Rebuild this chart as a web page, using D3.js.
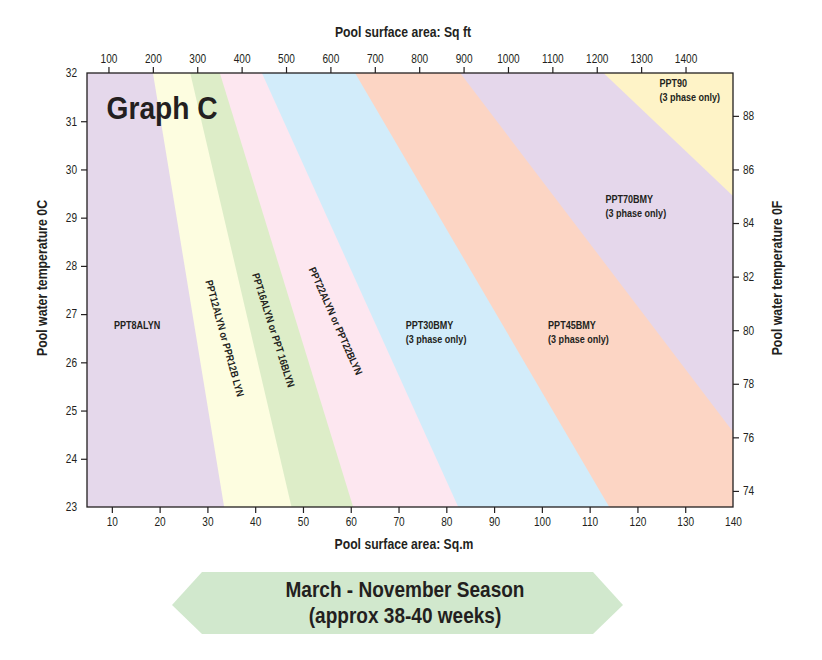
<!DOCTYPE html>
<html><head><meta charset="utf-8">
<script src="https://cdn.jsdelivr.net/npm/d3@7"></script>
<style>
body{margin:0;background:#fff}
text{font-family:"Liberation Sans",Arial,sans-serif;fill:#231f20}
</style>
</head><body>
<svg id="c" width="822" height="660"></svg>
<script>
// ---- data ----
const sqmTicks = [10,20,30,40,50,60,70,80,90,100,110,120,130,140];
const sqftTicks = [100,200,300,400,500,600,700,800,900,1000,1100,1200,1300,1400];
const tempCTicks = [23,24,25,26,27,28,29,30,31,32];
const tempFTicks = [74,76,78,80,82,84,86,88];
const sqmDomain = [4.8, 140];
const tempCDomain = [23, 32];
// zone boundaries: two points each, [sq.m, °C]
const boundaries = [
  [[18.6,32],[33.5,23]],
  [[26.4,32],[47.6,23]],
  [[32.6,32],[60.5,23]],
  [[41.4,32],[82.5,23]],
  [[60.9,32],[114.1,23]],
  [[82.9,32],[140,24.56]],
  [[112.9,32],[140,29.45]]
];
const zoneNames = ["PPT8ALYN","PPT12ALYN or PPR12B LYN","PPT16ALYN or PPT 16BLYN","PPT22ALYN or PPT22BLYN","PPT30BMY","PPT45BMY","PPT70BMY","PPT90"];
const zoneNotes = ["","","","","(3 phase only)","(3 phase only)","(3 phase only)","(3 phase only)"];
const zoneColors = ["#e5d8eb","#fdfde0","#ddedc8","#fde7f0","#d2ecfa","#fcd5c4","#e5d7eb","#fef3c7"];
const titleText = "Graph C";
const seasonLines = ["March - November Season","(approx 38-40 weeks)"];

// ---- layout ----
const L=87, R=733, T=73, B=507;
const svg = d3.select("#c");
const x = d3.scaleLinear().domain(sqmDomain).range([L,R]);
const xft = d3.scaleLinear().domain(sqmDomain.map(d=>d*10.7639)).range([L,R]);
const y = d3.scaleLinear().domain(tempCDomain).range([B,T]);
const yF = d3.scaleLinear().domain(tempCDomain.map(c=>c*9/5+32)).range([B,T]);

// horizontally condense text (narrow face look)
function condense(sel, f){
  sel.each(function(){
    const w=this.getComputedTextLength();
    this.setAttribute("textLength", (w*f).toFixed(2));
    this.setAttribute("lengthAdjust","spacingAndGlyphs");
  });
}

svg.append("defs").append("clipPath").attr("id","plot")
  .append("rect").attr("x",L).attr("y",T).attr("width",R-L).attr("height",B-T);

const g = svg.append("g").attr("clip-path","url(#plot)");
g.append("rect").attr("x",L).attr("y",T).attr("width",R-L).attr("height",B-T).attr("fill",zoneColors[0]);

function xAt(b,t){const [p1,p2]=b;return p1[0]+(t-p1[1])*(p2[0]-p1[0])/(p2[1]-p1[1]);}
boundaries.forEach((b,i)=>{
  const t1=34,t2=21,far=400;
  const pts=[[xAt(b,t1),t1],[xAt(b,t2),t2],[far,t2],[far,t1]];
  g.append("path")
    .attr("d", d3.line().x(d=>x(d[0])).y(d=>y(d[1]))(pts)+"Z")
    .attr("fill", zoneColors[i+1]);
});

// border
svg.append("rect").attr("x",L).attr("y",T).attr("width",R-L).attr("height",B-T)
  .attr("fill","none").attr("stroke","#231f20").attr("stroke-width",1.3);

// axes
function styleAxis(sel){
  sel.select(".domain").remove();
  sel.selectAll(".tick line").attr("stroke","#231f20").attr("stroke-width",1.2);
  sel.selectAll(".tick text").style("font-size","12px").attr("fill","#2a2a3a")
    .style("font-family",'"Liberation Sans",Arial,sans-serif').call(condense,0.84);
}
const fmt = d3.format("d");
const ax1 = svg.append("g").attr("transform",`translate(0,${B})`)
  .call(d3.axisBottom(x).tickValues(sqmTicks).tickFormat(fmt).tickSize(6).tickPadding(4));
styleAxis(ax1);
ax1.selectAll(".tick").filter(d=>d===140).select("line").remove();

const ax2 = svg.append("g").attr("transform",`translate(0,${T})`)
  .call(d3.axisTop(xft).tickValues(sqftTicks).tickFormat(fmt).tickSize(6).tickPadding(4));
styleAxis(ax2);

const ax3 = svg.append("g").attr("transform",`translate(${L},0)`)
  .call(d3.axisLeft(y).tickValues(tempCTicks).tickFormat(fmt).tickSize(6).tickPadding(4));
styleAxis(ax3);
ax3.selectAll(".tick").filter(d=>d===23||d===32).select("line").remove();

const ax4 = svg.append("g").attr("transform",`translate(${R},0)`)
  .call(d3.axisRight(yF).tickValues(tempFTicks).tickFormat(fmt).tickSize(6).tickPadding(4));
styleAxis(ax4);

// axis titles
const tstyle = s=>s.style("font-size","14px").style("font-weight","bold");
svg.append("text").attr("x",403).attr("y",37).attr("text-anchor","middle").text("Pool surface area: Sq ft").call(tstyle).call(condense,0.87);
svg.append("text").attr("x",404).attr("y",549).attr("text-anchor","middle").text("Pool surface area: Sq.m").call(tstyle).call(condense,0.87);
svg.append("text").attr("transform","translate(47,278) rotate(-90)").attr("text-anchor","middle").text("Pool water temperature 0C").call(tstyle).call(condense,0.88);
svg.append("text").attr("transform","translate(782,278) rotate(-90)").attr("text-anchor","middle").text("Pool water temperature 0F").call(tstyle).call(condense,0.88);

// graph title
svg.append("text").attr("x",x(8.9)).attr("y",y(31.05)).text(titleText)
  .style("font-size","32px").style("font-weight","bold").call(condense,0.88);

// zone labels
const lab = s=>s.style("font-size","10.5px").style("font-weight","bold");
// horizontal labels: [zone index, sq.m, °C baseline]
const hpos = [[0,10.45,26.69],[4,71.5,26.69],[5,101.3,26.69],[6,113.3,29.3],[7,124.6,31.7]];
hpos.forEach(([i,sx,tc])=>{
  const t = svg.append("text").attr("x",x(sx)).attr("y",y(tc)).call(lab);
  t.append("tspan").attr("x",x(sx)).text(zoneNames[i]);
  if(zoneNotes[i]) t.append("tspan").attr("x",x(sx)).attr("dy",14).text(zoneNotes[i]);
  t.selectAll("tspan").call(condense,0.86);
});
// rotated labels: [zone index, sq.m, °C center, angle]
const rpos = [[1,33.7,26.50,74.7],[2,43.9,26.67,72.4],[3,56.9,26.86,66]];
rpos.forEach(([i,sx,tc,a])=>{
  svg.append("text").attr("transform",`translate(${x(sx)},${y(tc)}) rotate(${a})`)
    .attr("text-anchor","middle").attr("dominant-baseline","central")
    .text(zoneNames[i]).call(lab).call(condense,0.86);
});

// season banner
const bx0=172, bx1=202, bx2=593, bx3=623, by0=572, by1=605, by2=634;
svg.append("path").attr("d",`M${bx0},${by1}L${bx1},${by0}L${bx2},${by0}L${bx3},${by1}L${bx2},${by2}L${bx1},${by2}Z`)
  .attr("fill","#d1e8cd");
seasonLines.forEach((s,i)=>{
  svg.append("text").attr("x",405).attr("y",597+i*26).attr("text-anchor","middle")
    .style("font-size","21.5px").style("font-weight","bold").text(s).call(condense,0.885);
});
</script>
</body></html>
